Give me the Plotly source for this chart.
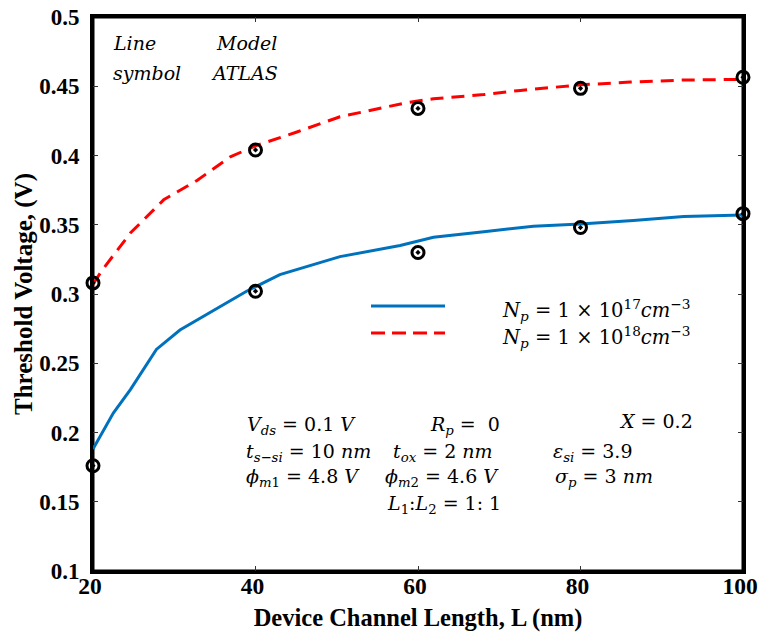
import plotly.graph_objects as go

# ---------------- data ----------------
# Model curves (lines)
L_model_17 = [20, 22.5, 24.6, 27.8, 30.7, 34.8, 38.9, 43.0, 50.4, 57.8, 61.9, 68.1, 74.2, 80, 86.5, 92.7, 100]
Vt_model_17 = [0.188, 0.214, 0.231, 0.260, 0.274, 0.288, 0.302, 0.314, 0.327, 0.335, 0.341, 0.345, 0.349, 0.3505, 0.353, 0.356, 0.357]

L_model_18 = [20, 21.1, 24.6, 28.7, 32.8, 36.9, 40, 45.1, 50.4, 58.5, 61.9, 68.1, 72.6, 80, 86.1, 92.6, 100]
Vt_model_18 = [0.307, 0.317, 0.344, 0.368, 0.382, 0.399, 0.407, 0.417, 0.428, 0.438, 0.441, 0.444, 0.447, 0.451, 0.453, 0.4545, 0.455]

# ATLAS symbols
L_atlas = [20, 40, 60, 80, 100]
Vt_atlas_17 = [0.176, 0.302, 0.330, 0.348, 0.358]
Vt_atlas_18 = [0.308, 0.404, 0.434, 0.4485, 0.4565]

x_ticks = [20, 40, 60, 80, 100]
y_ticks = [0.1, 0.15, 0.2, 0.25, 0.3, 0.35, 0.4, 0.45, 0.5]
y_tick_labels = ["0.1", "0.15", "0.2", "0.25", "0.3", "0.35", "0.4", "0.45", "0.5"]

legend_labels = [
    "<i>N</i><sub><i>p</i></sub> = 1 × 10<sup>17</sup><i>cm</i><sup>−3</sup>",
    "<i>N</i><sub><i>p</i></sub> = 1 × 10<sup>18</sup><i>cm</i><sup>−3</sup>",
]

# ---------------- layout helpers ----------------
W, H = 759, 632
PL, PR, PT, PB = 93, 743, 17, 571  # plot area in pixels


def px(x):
    return (x - PL) / (PR - PL)


def py(y):
    return (PB - y) / (PB - PT)


BLUE = "#0072BD"
RED = "#FF0000"
MATH_FONT = dict(family="DejaVu Serif", size=19, color="black")

fig = go.Figure()

fig.add_trace(go.Scatter(x=L_model_17, y=Vt_model_17, mode="lines",
                         line=dict(color=BLUE, width=3), showlegend=False,
                         cliponaxis=False))
fig.add_trace(go.Scatter(x=L_model_18, y=Vt_model_18, mode="lines",
                         line=dict(color=RED, width=3, dash="13px,8px"), showlegend=False,
                         cliponaxis=False))
for vals in (Vt_atlas_17, Vt_atlas_18):
    fig.add_trace(go.Scatter(x=L_atlas, y=vals, mode="markers",
                             marker=dict(symbol="circle-open-dot", size=12, color="black",
                                         line=dict(color="black", width=3)),
                             showlegend=False, cliponaxis=False))

annotations = []


def add_text(text, x, y, anchor="left", font=None):
    annotations.append(dict(text=text, x=px(x), y=py(y), xref="paper", yref="paper",
                            xanchor=anchor, yanchor="middle", showarrow=False,
                            font=font or MATH_FONT))


# top-left key
add_text("<i>Line</i>", 111, 43)
add_text("<i>Model</i>", 214, 43)
add_text("<i>symbol</i>", 111, 73)
add_text("<i>ATLAS</i>", 209, 73)

# parameter block
add_text("<i>V</i><sub><i>ds</i></sub> = 0.1 <i>V</i>", 245, 425)
add_text("<i>R</i><sub><i>p</i></sub> =  0", 428, 425)
add_text("<i>X</i> = 0.2", 617, 421)
add_text("<i>t</i><sub><i>s−si</i></sub> = 10 <i>nm</i>", 244, 452)
add_text("<i>t</i><sub><i>ox</i></sub> = 2 <i>nm</i>", 391, 452)
add_text("<i>ε</i><sub><i>si</i></sub> = 3.9", 551, 452)
add_text("<i>ϕ</i><sub><i>m</i>1</sub> = 4.8 <i>V</i>", 244, 477)
add_text("<i>ϕ</i><sub><i>m</i>2</sub> = 4.6 <i>V</i>", 383, 477)
add_text("<i>σ</i><sub><i>p</i></sub> = 3 <i>nm</i>", 553, 477)
add_text("<i>L</i><sub>1</sub>:<i>L</i><sub>2</sub> = 1: 1", 385, 504)

# legend (custom)
LEG_FONT = dict(family="DejaVu Serif", size=19.5, color="black")
add_text(legend_labels[0], 500, 310, font=LEG_FONT)
add_text(legend_labels[1], 500, 337, font=LEG_FONT)

shapes = [
    dict(type="line", xref="paper", yref="paper", x0=px(371), x1=px(445), y0=py(306), y1=py(306),
         line=dict(color=BLUE, width=3)),
    dict(type="line", xref="paper", yref="paper", x0=px(371), x1=px(445), y0=py(333), y1=py(333),
         line=dict(color=RED, width=3, dash="14px,7px")),
    # axes box frame
    dict(type="rect", xref="paper", yref="paper", x0=0, x1=1, y0=0, y1=1,
         line=dict(color="black", width=3), layer="below"),
]

TICK_FONT = "Liberation Serif"
axis_common = dict(showline=True, linewidth=3, linecolor="black", mirror="ticks",
                   ticks="inside", ticklen=5, tickwidth=1, tickcolor="#333333",
                   showgrid=False, zeroline=False, ticklabeloverflow="allow")

fig.update_layout(
    width=W, height=H,
    margin=dict(l=PL, r=W - PR, t=PT, b=H - PB, autoexpand=False),
    paper_bgcolor="white", plot_bgcolor="white",
    xaxis=dict(range=[20, 100], tickvals=x_ticks, ticktext=[str(v) for v in x_ticks],
               tickfont=dict(family=TICK_FONT, size=23.5, color="black", weight="bold"),
               ticklabelstandoff=-8, ticklabelshift=-3,
               title=dict(text="<b>Device Channel Length, L (nm)</b>",
                          font=dict(family=TICK_FONT, size=24.5, color="black"), standoff=13),
               **axis_common),
    yaxis=dict(range=[0.1, 0.5], tickvals=y_ticks, ticktext=y_tick_labels,
               tickfont=dict(family=TICK_FONT, size=23, color="black", weight="bold"),
               ticklabelstandoff=6,
               title=dict(text="<b>Threshold Voltage, (V)</b>",
                          font=dict(family=TICK_FONT, size=25, color="black"), standoff=0),
               **axis_common),
    annotations=annotations,
    shapes=shapes,
    showlegend=False,
)

fig.write_html("out.html", config={"displayModeBar": False},
               post_script="document.body.style.margin='0';document.body.style.padding='0';")
